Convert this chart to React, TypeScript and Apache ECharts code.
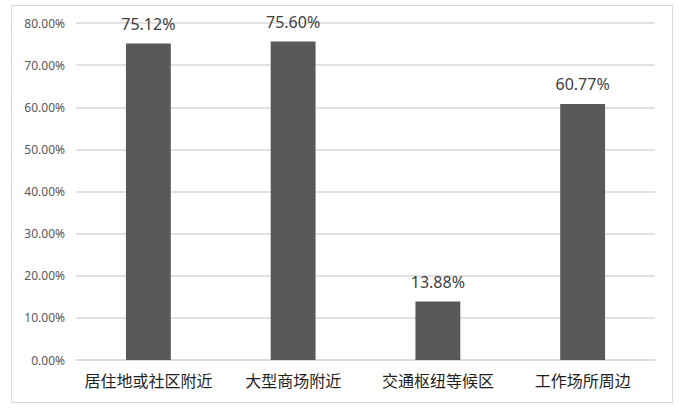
import { useRef, useEffect } from 'react'
import * as echarts from 'echarts'

const CATEGORIES = ['居住地或社区附近', '大型商场附近', '交通枢纽等候区', '工作场所周边']
const VALUES = [75.12, 75.6, 13.88, 60.77]
const Y_MIN = 0
const Y_MAX = 80
const Y_STEP = 10

const FONT = '"Noto Sans", "Noto Sans CJK SC", sans-serif'

export default function App() {
  const chartEl = useRef<HTMLDivElement>(null)

  useEffect(() => {
    document.body.style.margin = '0'
    if (!chartEl.current) return
    const chart = echarts.init(chartEl.current, null, { renderer: 'svg' })
    chart.setOption({
      animation: false,
      backgroundColor: '#fff',
      grid: { left: 76, right: 34, top: 23, bottom: 49, containLabel: false },
      xAxis: {
        type: 'category',
        data: CATEGORIES,
        axisLine: { lineStyle: { color: '#d9d9d9', width: 1.5 } },
        axisTick: { show: false },
        axisLabel: {
          color: '#1f1f1f',
          fontSize: 16,
          fontFamily: '"Noto Sans CJK SC", sans-serif',
          margin: 12,
          interval: 0,
        },
      },
      yAxis: {
        type: 'value',
        min: Y_MIN,
        max: Y_MAX,
        interval: Y_STEP,
        axisLine: { show: false },
        axisTick: { show: false },
        axisLabel: {
          color: '#595959',
          fontSize: 12,
          fontFamily: FONT,
          margin: 11,
          formatter: (v: number) => v.toFixed(2) + '%',
        },
        splitLine: { lineStyle: { color: '#d9d9d9', width: 1.5 } },
      },
      series: [
        {
          type: 'bar',
          data: VALUES,
          barWidth: '31%',
          itemStyle: { color: '#595959' },
          label: {
            show: true,
            position: 'top',
            distance: 12,
            color: '#404040',
            fontSize: 16,
            fontFamily: FONT,
            formatter: (p: any) => Number(p.value).toFixed(2) + '%',
          },
        },
      ],
    })
    return () => chart.dispose()
  }, [])

  return (
    <div style={{ position: 'relative', width: 689, height: 409, background: '#fff' }}>
      <div ref={chartEl} style={{ position: 'absolute', left: 0, top: 0, width: 689, height: 409 }} />
      <div
        style={{
          position: 'absolute',
          left: 11,
          top: 5,
          width: 660,
          height: 396,
          border: '1.5px solid #d9d9d9',
          pointerEvents: 'none',
        }}
      />
    </div>
  )
}
